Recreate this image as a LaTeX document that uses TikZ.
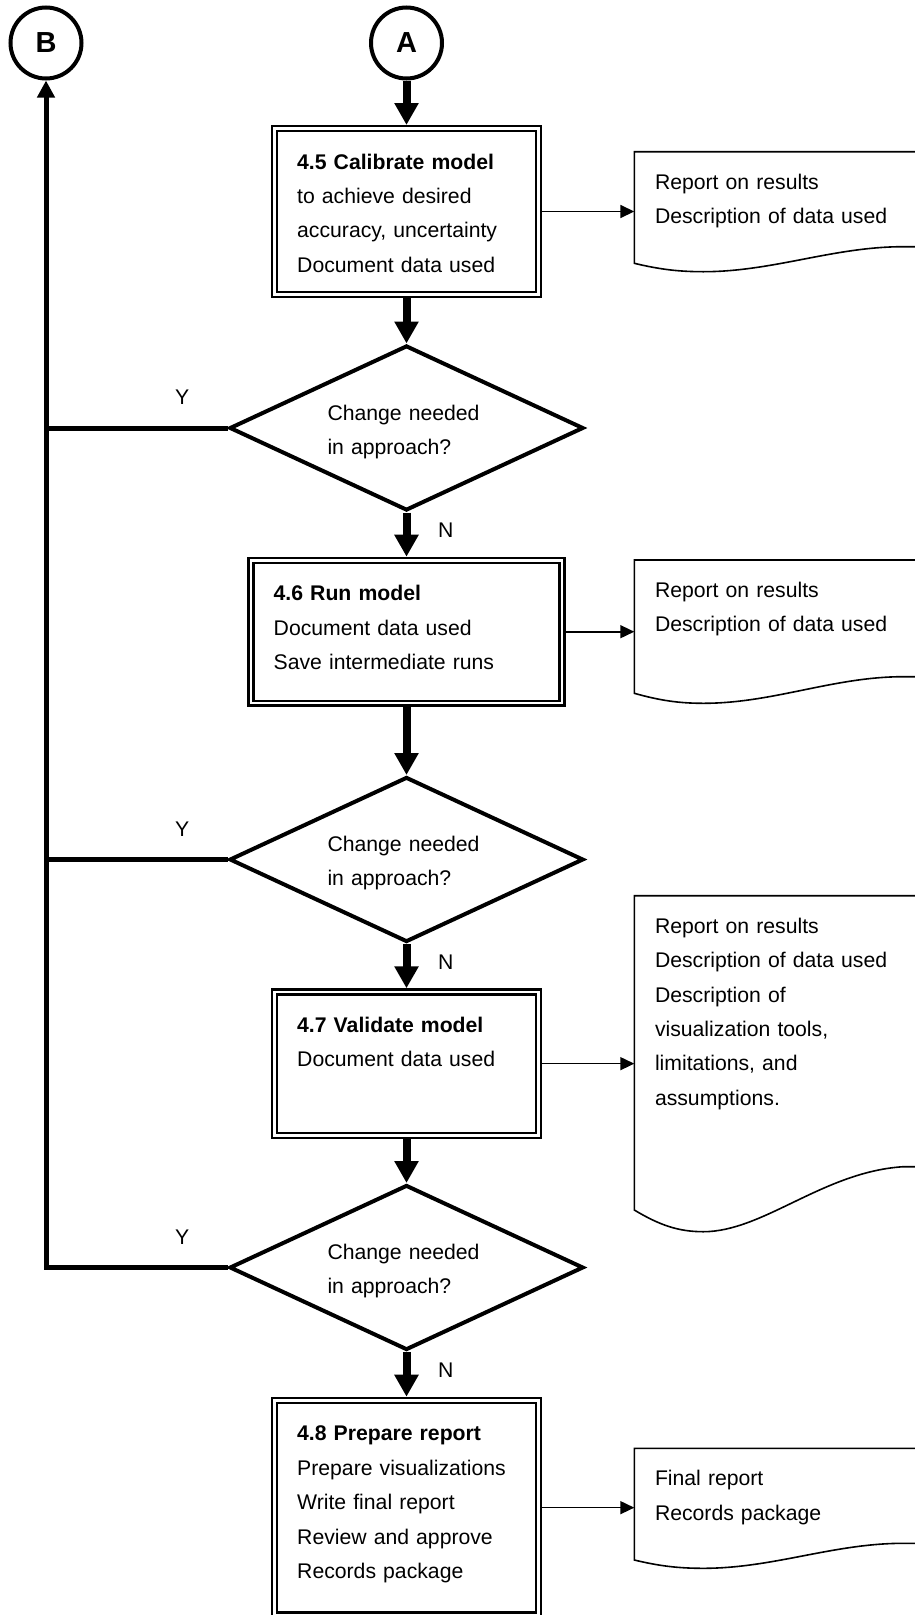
\documentclass[tikz,border=0pt]{standalone}
\usepackage{fontspec}
\setmainfont{Liberation Sans}
\usepackage{tikz}
\usetikzlibrary{arrows.meta,shapes,positioning}

\newcommand\flowfont{\fontsize{21.2bp}{34.4bp}\selectfont}
\newcommand\markfont{\fontsize{29bp}{29bp}\selectfont\bfseries}

\tikzset{
  connector/.style={draw,circle,line width=4bp,minimum size=71bp,inner sep=0pt,font=\markfont},
  stepbox/.style={draw,double,line width=2.4bp,double distance=2.4bp,outer sep=3.6bp,inner xsep=22.7bp,inner ysep=0pt,text height=40.5bp,align=left,font=\flowfont},
  decision/.style={draw,diamond,aspect=2.1,line width=4bp,minimum width=354bp,minimum height=165bp,inner sep=0pt,text width=158bp,text height=20bp,text depth=36bp,align=left,font=\flowfont},
  record/.style={anchor=north west,inner xsep=20.7bp,inner ysep=0pt,outer sep=0pt,text width=289bp,text height=37.5bp,align=left,font=\flowfont},
  docline/.style={line width=1.6bp},
  flow/.style={line width=8bp,-{Triangle[length=22bp,width=23bp]}},
  feed/.style={line width=1.6bp,-{Triangle[length=14bp,width=13bp]}},
  loopline/.style={line width=5bp},
  yn/.style={inner sep=0pt,font=\flowfont}
}

\begin{document}
\begin{tikzpicture}

\useasboundingbox (0bp,0bp) rectangle (915bp,-1615bp);

\node (A) at (406.5bp,-43bp)[connector] {A};
\node (B) at (46bp,-43bp)[connector] {B};

\node (P45) at (406.5bp,-211.5bp)[stepbox,text width=218.6bp,text depth=125.3bp] {\textbf{4.5 Calibrate model}\\to achieve desired\\accuracy, uncertainty\\Document data used};
\node (D1) at (406.5bp,-428bp)[decision] {Change needed\\in approach?};
\node (P46) at (406.5bp,-631.7bp)[stepbox,text width=265.6bp,text depth=102.3bp] {\textbf{4.6 Run model}\\Document data used\\Save intermediate runs};
\node (D2) at (406.5bp,-859.5bp)[decision] {Change needed\\in approach?};
\node (P47) at (406.5bp,-1063.65bp)[stepbox,text width=218.6bp,text depth=103bp] {\textbf{4.7 Validate model}\\Document data used};
\node (D3) at (406.5bp,-1267.5bp)[decision] {Change needed\\in approach?};
\node (P48) at (406.5bp,-1507.65bp)[stepbox,text width=218.6bp,text depth=174.2bp] {\textbf{4.8 Prepare report}\\Prepare visualizations\\Write final report\\Review and approve\\Records package};

\node (R45) at (634.3bp,-151.7bp)[record,text depth=74.1bp] {Report on results\\Description of data used};
\node (R46) at (634.3bp,-560bp)[record,text depth=95.8bp] {Report on results\\Description of data used};
\node (R47) at (634.3bp,-895.7bp)[record,text depth=276.8bp] {Report on results\\Description of data used\\Description of\\visualization tools,\\limitations, and\\assumptions.};
\node (R48) at (634.3bp,-1448.3bp)[record,text depth=74.2bp] {Final report\\Records package};

% document outlines
\draw [docline] (R45.north east) -- (R45.north west) -- (R45.south west) .. controls +(25bp,-6bp) and +(-25bp,0bp) .. ++(69bp,-8.4bp) .. controls +(70bp,0bp) and +(-70bp,0bp) .. ++(200bp,25bp) -- ++(100bp,0bp);
\draw [docline] (R46.north east) -- (R46.north west) -- (R46.south west) .. controls +(25bp,-7bp) and +(-25bp,0bp) .. ++(69bp,-10bp) .. controls +(70bp,0bp) and +(-70bp,0bp) .. ++(200bp,26.6bp) -- ++(100bp,0bp);
\draw [docline] (R47.north east) -- (R47.north west) -- (R47.south west) .. controls +(25bp,-15bp) and +(-25bp,0bp) .. ++(69bp,-21.7bp) .. controls +(60bp,0bp) and +(-80bp,-5bp) .. ++(200bp,65bp) -- ++(100bp,0bp);
\draw [docline] (R48.north east) -- (R48.north west) -- (R48.south west) .. controls +(25bp,-6bp) and +(-25bp,0bp) .. ++(69bp,-8.3bp) .. controls +(70bp,0bp) and +(-70bp,0bp) .. ++(200bp,25bp) -- ++(100bp,0bp);

\draw [flow] (A) -- (P45);
\draw [flow] (P45) -- (D1);
\draw [flow] (D1) -- (P46) node[yn,pos=0.4,right=27.5bp] {N};
\draw [flow] (P46) -- (D2);
\draw [flow] (D2) -- (P47) node[yn,pos=0.4,right=27.5bp] {N};
\draw [flow] (P47) -- (D3);
\draw [flow] (D3) -- (P48) node[yn,pos=0.4,right=27.5bp] {N};

\draw [feed] (P45.east) -- (P45.east -| R45.west);
\draw [feed] (P46.east) -- (P46.east -| R46.west);
\draw [feed] (P47.east) -- (P47.east -| R47.west);
\draw [feed] (P48.east) -- (P48.east -| R48.west);

\draw [loopline] (D1.west) -- (D1.west -| B.south) node[yn,pos=0.25,above=21bp] {Y};
\draw [loopline] (D2.west) -- (D2.west -| B.south) node[yn,pos=0.25,above=21bp] {Y};
\draw [loopline,-{Triangle[length=17bp,width=17bp]}] (D3.west) -| node[yn,pos=0.125,above=21bp] {Y} (B.south);
\end{tikzpicture}
\end{document}
